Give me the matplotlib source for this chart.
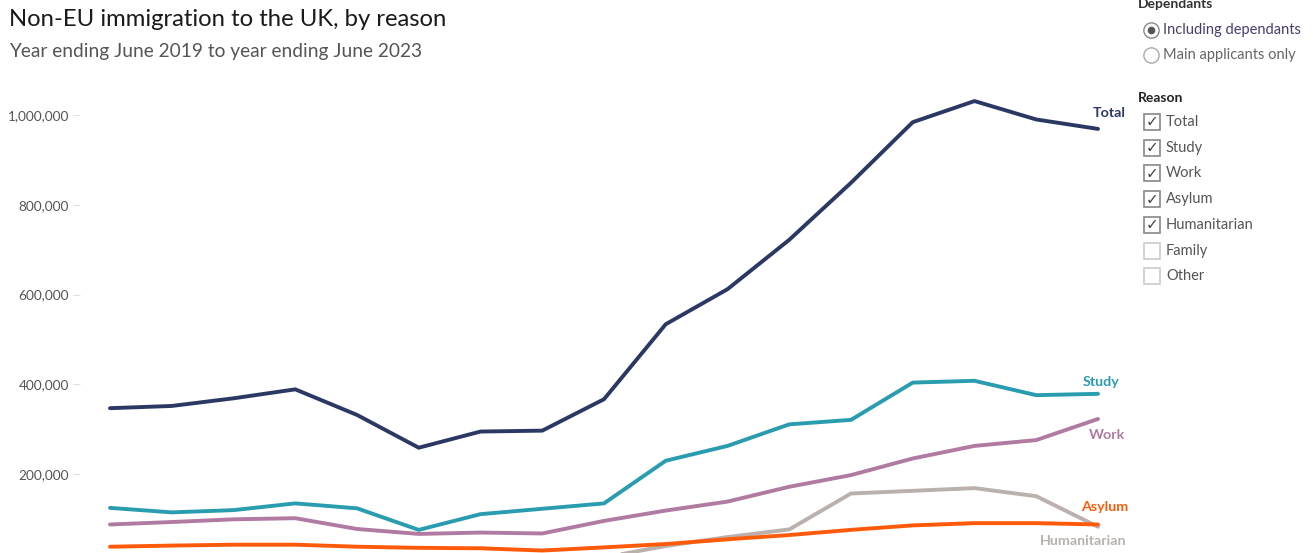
import matplotlib
matplotlib.use("Agg")
import matplotlib.pyplot as plt
from matplotlib.lines import Line2D
from matplotlib.ticker import FuncFormatter

plt.rcParams['font.family'] = ['Lato', 'DejaVu Sans']

periods = ["YE Jun 2019", "YE Sep 2019", "YE Dec 2019", "YE Mar 2020",
           "YE Jun 2020", "YE Sep 2020", "YE Dec 2020", "YE Mar 2021",
           "YE Jun 2021", "YE Sep 2021", "YE Dec 2021", "YE Mar 2022",
           "YE Jun 2022", "YE Sep 2022", "YE Dec 2022", "YE Mar 2023",
           "YE Jun 2023"]

total = [347000, 352000, 369000, 389000, 332000, 259000, 295000, 297000,
         367000, 534000, 612000, 722000, 849000, 984000, 1031000, 990000, 969000]
study = [125000, 115000, 120000, 135000, 124000, 76000, 111000, 123000,
         135000, 230000, 263000, 311000, 321000, 404000, 408000, 376000, 379000]
work = [88000, 93500, 99500, 102000, 78000, 67000, 70000, 68000,
        96000, 119000, 139000, 172000, 198000, 235000, 263000, 276000, 323000]
asylum = [38500, 41000, 43000, 43000, 38500, 36000, 35000, 30000,
          37000, 44500, 55000, 64500, 76000, 86000, 91000, 91000, 88000]
humanitarian = [5000, 6000, 6000, 6000, 5000, 4000, 5000, 8000,
                15000, 40000, 60000, 77000, 157000, 163000, 169000, 151000, 83000]

series = [("Total", total, "#2b3863"),
          ("Study", study, "#2a9cb0"),
          ("Work", work, "#b07aa1"),
          ("Asylum", asylum, "#ff5a0a"),
          ("Humanitarian", humanitarian, "#bab0ac")]

yticks = [200000, 400000, 600000, 800000, 1000000]

W, H = 1313, 553
fig = plt.figure(figsize=(W / 100, H / 100), dpi=100)

def fx(x):
    return x / W

def fy(y):
    return 1 - y / H

# axes: pixel x 80..1130, pixel y 95..553
ax = fig.add_axes([fx(80), fy(553), (1130 - 80) / W, (553 - 95) / H])
step = (1098 - 110) / 16
xs = list(range(len(periods)))
ax.set_xlim(-(110 - 80) / step, 16 + (1130 - 1098) / step)
ax.set_ylim(24500, 1044500)

# draw order: humanitarian at the back
for name, vals, col in reversed(series):
    ax.plot(xs, vals, color=col, lw=2.8, solid_capstyle='round',
            solid_joinstyle='round', clip_on=True)

for s in ax.spines.values():
    s.set_visible(False)
ax.set_xticks([])
ax.set_yticks(yticks)
ax.yaxis.set_major_formatter(FuncFormatter(lambda v, p: f"{int(v):,}"))
ax.tick_params(axis='y', length=5, color='#e0e0e0', labelcolor='#555555',
               labelsize=9.8, pad=3)

# end labels
labels = [("Total", 1093, 113, "#2b3863"),
          ("Study", 1083, 382, "#2a9cb0"),
          ("Work", 1089, 435, "#b07aa1"),
          ("Asylum", 1081, 507, "#ff5a0a"),
          ("Humanitarian", 1040, 541, "#bab0ac")]
for t, x, y, c in labels:
    fig.text(fx(x), fy(y), t, color=c, fontsize=10.3, fontweight='bold',
             ha='left', va='center')

# titles
fig.text(fx(9), fy(19), "Non-EU immigration to the UK, by reason", fontsize=17.2,
         color='#1a1a1a', ha='left', va='center')
fig.text(fx(9), fy(51), "Year ending June 2019 to year ending June 2023",
         fontsize=13.8, color='#555555', ha='left', va='center')

# right-side controls
fig.text(fx(1138), fy(4), "Dependants", fontsize=10, fontweight='bold',
         color='#333333', ha='left', va='center')
for label, y, sel, tc in [("Including dependants", 30, True, '#4b3d6b'),
                          ("Main applicants only", 55, False, '#666666')]:
    fig.add_artist(Line2D([fx(1151)], [fy(y)], marker='o', markersize=11,
                          mfc='white', mec='#aaaaaa' if not sel else '#888888',
                          mew=1, transform=fig.transFigure))
    if sel:
        fig.add_artist(Line2D([fx(1151)], [fy(y)], marker='o', markersize=4.5,
                              mfc='#555555', mec='#555555',
                              transform=fig.transFigure))
    fig.text(fx(1163), fy(y), label, fontsize=10.5, color=tc,
             ha='left', va='center')

fig.text(fx(1138), fy(98), "Reason", fontsize=10, fontweight='bold',
         color='#222222', ha='left', va='center')
reasons = ["Total", "Study", "Work", "Asylum", "Humanitarian", "Family", "Other"]
checked = [True, True, True, True, True, False, False]
for i, (r, ch) in enumerate(zip(reasons, checked)):
    y = 122 + i * 25.7
    fig.add_artist(Line2D([fx(1152)], [fy(y)], marker='s', markersize=12,
                          mfc='white', mec='#888888' if ch else '#cccccc',
                          mew=1.2, transform=fig.transFigure))
    if ch:
        fig.text(fx(1152), fy(y), "\u2713", fontsize=11, color='#444444',
                 ha='center', va='center', family='DejaVu Sans')
    fig.text(fx(1166), fy(y), r, fontsize=10.5, color='#555555',
             ha='left', va='center')

fig.savefig("out.png", dpi=100)
